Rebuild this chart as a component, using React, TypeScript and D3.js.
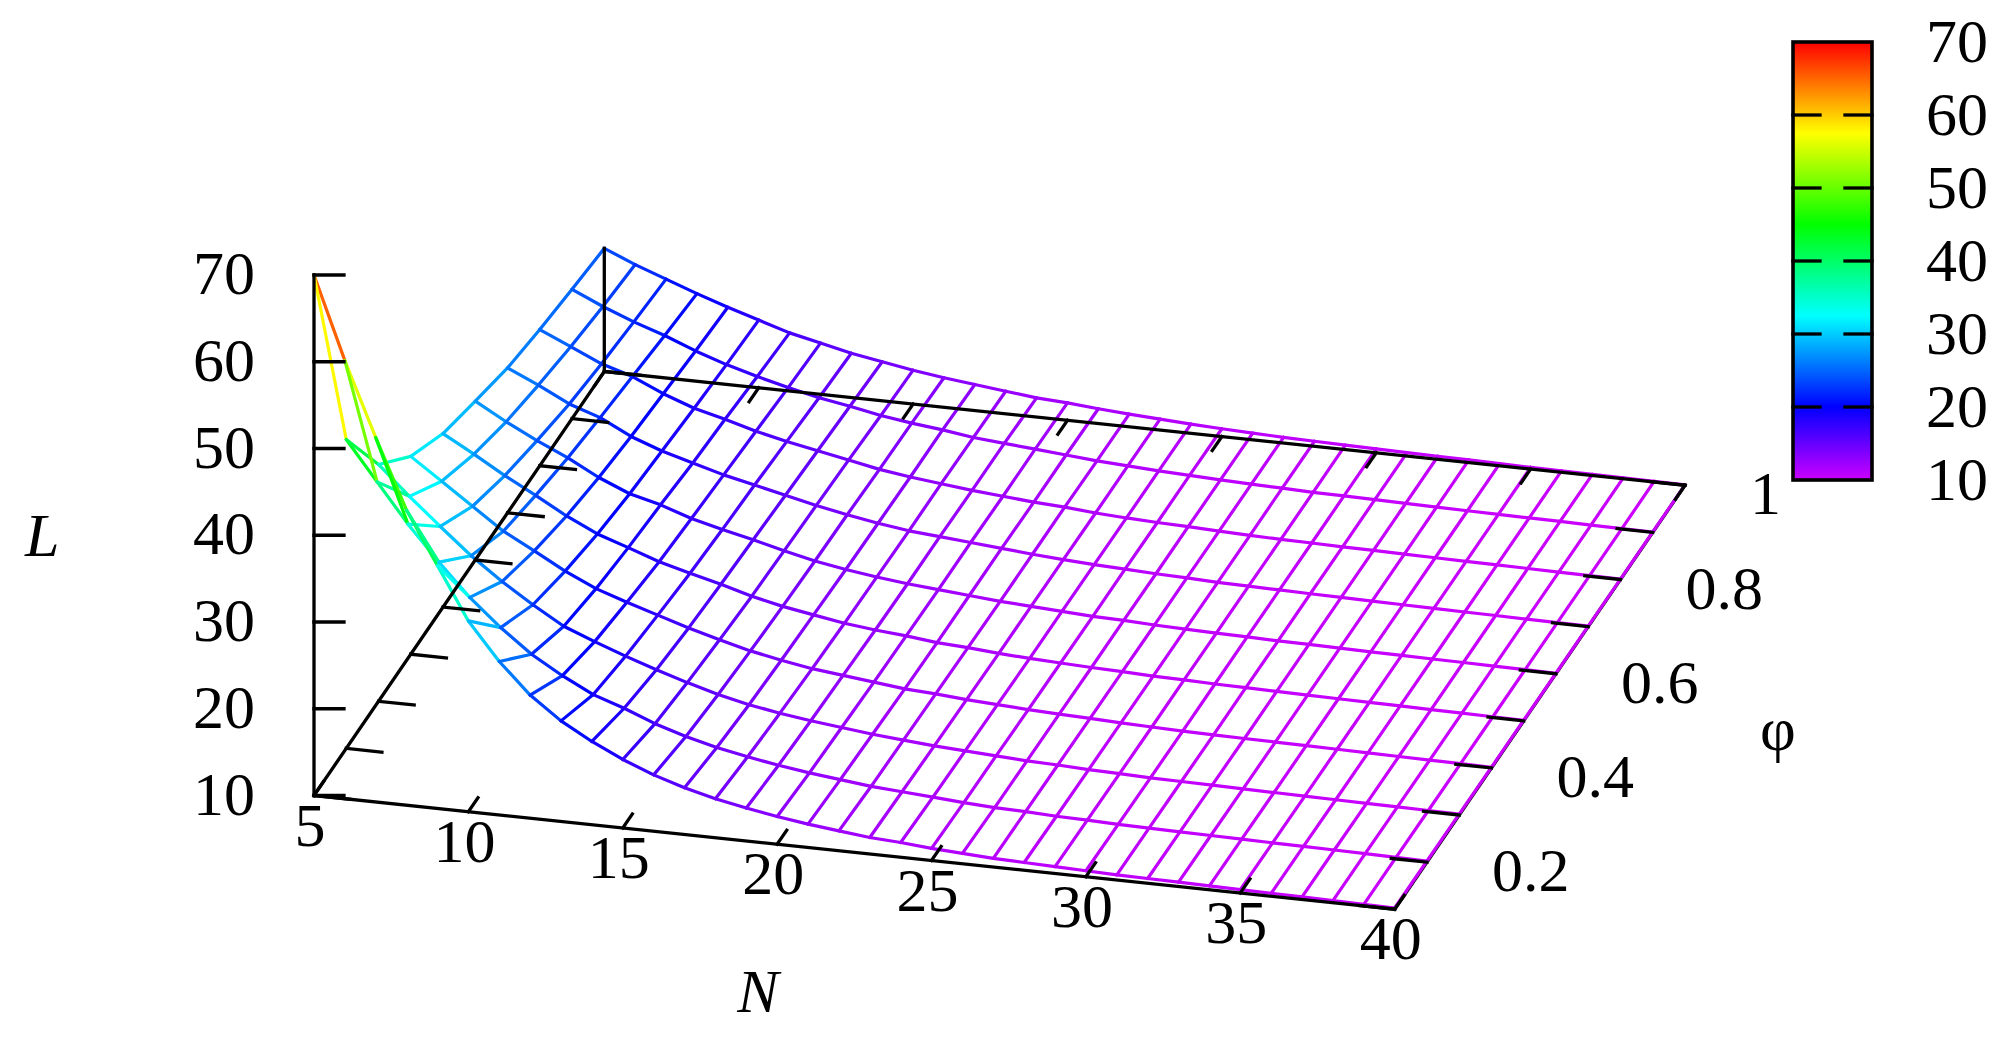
import * as d3 from "d3";

const nValues = [
  5, 6, 7, 8, 9, 10, 11, 12, 13, 14, 15, 16, 17, 18, 19, 20, 21, 22, 23, 24, 25, 26, 27, 28, 29, 30,
  31, 32, 33, 34, 35, 36, 37, 38, 39, 40,
];
const phiValues = [0.1, 0.2, 0.3, 0.4, 0.5, 0.6, 0.7, 0.8, 0.9, 1];

// one row per N, one column per phi
const lTable = [
  [70, 45.6, 37.3, 32.8, 30, 28.3, 26.7, 25.7, 24.9, 24.2],
  [60.5, 41.1, 34, 30.3, 28, 26.3, 25.1, 24.1, 23.3, 22.7],
  [52, 36.6, 30.9, 27.8, 25.9, 24.5, 23.3, 22.5, 21.9, 21.4],
  [44, 32.6, 27.9, 25.3, 24, 22.9, 22.1, 21.4, 20.7, 20.1],
  [38, 28.9, 25.3, 23.4, 22, 21, 20.3, 19.8, 19.3, 18.9],
  [32, 25.8, 23, 21.45, 20.3, 19.5, 19, 18.5, 18.1, 17.8],
  [27.7, 23.1, 20.9, 19.8, 19.1, 18.6, 18, 17.6, 17.1, 16.7],
  [24.2, 21, 19.5, 18.6, 17.84, 17.4, 17, 16.6, 16.2, 15.9],
  [21.6, 19.2, 18.2, 17.5, 16.9, 16.5, 16.2, 15.8, 15.4, 15.1],
  [19.6, 18, 17, 16.4, 16, 15.7, 15.4, 15.1, 14.8, 14.5],
  [17.9, 16.6, 15.9, 15.4, 15, 14.8, 14.6, 14.4, 14.1, 13.9],
  [16.5, 15.5, 14.9, 14.5, 14.2, 14, 13.9, 13.7, 13.6, 13.4],
  [15.4, 14.6, 14.1, 13.8, 13.6, 13.4, 13.3, 13.2, 13.2, 13],
  [14.5, 13.9, 13.5, 13.2, 13, 12.9, 12.8, 12.8, 12.7, 12.6],
  [13.8, 13.3, 13, 12.8, 12.6, 12.5, 12.5, 12.4, 12.4, 12.2],
  [13.2, 12.8, 12.6, 12.4, 12.3, 12.2, 12.2, 12.1, 12.1, 12],
  [12.7, 12.4, 12.2, 12, 11.9, 11.9, 11.9, 11.8, 11.8, 11.7],
  [12.3, 12, 11.9, 11.8, 11.7, 11.6, 11.6, 11.6, 11.5, 11.45],
  [11.9, 11.75, 11.6, 11.5, 11.4, 11.4, 11.35, 11.3, 11.3, 11.25],
  [11.7, 11.5, 11.4, 11.3, 11.2, 11.2, 11.15, 11.1, 11.1, 11.05],
  [11.4, 11.25, 11.2, 11.1, 11.05, 11, 11, 10.95, 10.95, 10.9],
  [11.2, 11.05, 11, 10.95, 10.9, 10.9, 10.85, 10.85, 10.8, 10.76],
  [11, 10.95, 10.9, 10.85, 10.8, 10.75, 10.75, 10.7, 10.7, 10.66],
  [10.9, 10.8, 10.75, 10.7, 10.65, 10.65, 10.6, 10.6, 10.6, 10.58],
  [10.8, 10.73, 10.65, 10.6, 10.6, 10.55, 10.55, 10.5, 10.5, 10.5],
  [10.7, 10.62, 10.55, 10.5, 10.5, 10.5, 10.48, 10.46, 10.46, 10.45],
  [10.6, 10.55, 10.5, 10.45, 10.45, 10.42, 10.42, 10.4, 10.4, 10.4],
  [10.55, 10.5, 10.45, 10.4, 10.4, 10.38, 10.37, 10.36, 10.35, 10.35],
  [10.5, 10.45, 10.4, 10.36, 10.34, 10.33, 10.32, 10.31, 10.3, 10.3],
  [10.45, 10.4, 10.35, 10.32, 10.3, 10.28, 10.27, 10.26, 10.25, 10.25],
  [10.4, 10.36, 10.31, 10.28, 10.26, 10.24, 10.23, 10.22, 10.2, 10.2],
  [10.35, 10.32, 10.27, 10.24, 10.22, 10.2, 10.19, 10.18, 10.17, 10.17],
  [10.3, 10.28, 10.23, 10.2, 10.18, 10.17, 10.16, 10.15, 10.14, 10.14],
  [10.25, 10.23, 10.19, 10.16, 10.14, 10.13, 10.12, 10.11, 10.1, 10.1],
  [10.2, 10.19, 10.15, 10.12, 10.1, 10.09, 10.08, 10.08, 10.07, 10.07],
  [10.15, 10.14, 10.11, 10.08, 10.07, 10.06, 10.05, 10.05, 10.05, 10.05],
];

const nTicks = [5, 10, 15, 20, 25, 30, 35, 40];
const phiTicks = [0.1, 0.2, 0.3, 0.4, 0.5, 0.6, 0.7, 0.8, 0.9, 1];
const phiLabels = [
  { phi: 0.2, text: "0.2" },
  { phi: 0.4, text: "0.4" },
  { phi: 0.6, text: "0.6" },
  { phi: 0.8, text: "0.8" },
  { phi: 1, text: "1" },
];
const zTicks = [10, 20, 30, 40, 50, 60, 70];

const font = "'Liberation Serif', serif";
const fontSize = 62;

const originX = 314;
const originY = 795.5;

// oblique projection of the box, gnuplot style
const nToX = d3.scaleLinear().domain([5, 40]).range([0, 1080.7]);
const nToY = d3.scaleLinear().domain([5, 40]).range([0, 113.8]);
const phiToX = d3.scaleLinear().domain([0.1, 1]).range([0, 290.3]);
const phiToY = d3.scaleLinear().domain([0.1, 1]).range([0, -424]);
const zToY = d3.scaleLinear().domain([10, 70]).range([0, -520.5]);

const px = (n: number, phi: number) => originX + nToX(n) + phiToX(phi);
const py = (n: number, phi: number, z = 10) => originY + nToY(n) + phiToY(phi) + zToY(z);

// palette is a plain hue sweep from red at 70 to purple at 10
const hue = d3.scaleLinear().domain([70, 10]).range([0, 288]);
const palette = (z: number) => d3.hsl(hue(z), 1, 0.5).formatRgb();

const barY = d3.scaleLinear().domain([10, 70]).range([480, 42]);
const barLeft = 1793;
const barRight = 1872;
const gradientStops = d3.range(10, 70.1, 2.5);

const tickN = 0.033; // tick length as part of the axis
const black = "#000";

const Ax = (p: { x1: number; y1: number; x2: number; y2: number }) => (
  <line {...p} stroke={black} strokeWidth={3.3} strokeLinecap="square" />
);

export default function App() {
  const segments: { x1: number; y1: number; x2: number; y2: number; z: number }[] = [];
  nValues.forEach((n, i) => {
    phiValues.forEach((phi, j) => {
      const z = lTable[i][j];
      if (i + 1 < nValues.length) {
        const z2 = lTable[i + 1][j];
        segments.push({
          x1: px(n, phi),
          y1: py(n, phi, z),
          x2: px(nValues[i + 1], phi),
          y2: py(nValues[i + 1], phi, z2),
          z: (z + z2) / 2,
        });
      }
      if (j + 1 < phiValues.length) {
        const z2 = lTable[i][j + 1];
        segments.push({
          x1: px(n, phi),
          y1: py(n, phi, z),
          x2: px(n, phiValues[j + 1]),
          y2: py(n, phiValues[j + 1], z2),
          z: (z + z2) / 2,
        });
      }
    });
  });

  const lastN = nValues[nValues.length - 1];
  const firstN = nValues[0];
  const firstPhi = phiValues[0];
  const lastPhi = phiValues[phiValues.length - 1];
  const nTickDx = (nToX(40) - nToX(5)) * tickN;
  const nTickDy = (nToY(40) - nToY(5)) * tickN;
  const phiTickDx = (phiToX(1) - phiToX(0.1)) * tickN;
  const phiTickDy = (phiToY(1) - phiToY(0.1)) * tickN;

  return (
    <svg
      width={2005}
      height={1052}
      style={{ position: "absolute", left: 0, top: 0, display: "block", background: "#fff" }}
      fontFamily={font}
      fontSize={fontSize}
    >
      <defs>
        <linearGradient id="bar" x1="0" y1="1" x2="0" y2="0">
          {gradientStops.map((z) => (
            <stop key={z} offset={(z - 10) / 60} stopColor={palette(z)} />
          ))}
        </linearGradient>
      </defs>

      {/* right edge goes under the surface */}
      <Ax x1={px(lastN, firstPhi)} y1={py(lastN, firstPhi)} x2={px(lastN, lastPhi)} y2={py(lastN, lastPhi)} />

      {segments.map((s, i) => (
        <line
          key={i}
          x1={s.x1}
          y1={s.y1}
          x2={s.x2}
          y2={s.y2}
          stroke={palette(s.z)}
          strokeWidth={3.2}
          strokeLinecap="round"
        />
      ))}

      <Ax x1={px(firstN, firstPhi)} y1={py(firstN, firstPhi)} x2={px(lastN, firstPhi)} y2={py(lastN, firstPhi)} />
      <Ax x1={px(firstN, firstPhi)} y1={py(firstN, firstPhi)} x2={px(firstN, lastPhi)} y2={py(firstN, lastPhi)} />
      <Ax x1={px(firstN, lastPhi)} y1={py(firstN, lastPhi)} x2={px(lastN, lastPhi)} y2={py(lastN, lastPhi)} />
      <Ax
        x1={px(firstN, firstPhi)}
        y1={py(firstN, firstPhi)}
        x2={px(firstN, firstPhi)}
        y2={py(firstN, firstPhi, 70)}
      />
      <Ax
        x1={px(firstN, lastPhi)}
        y1={py(firstN, lastPhi)}
        x2={px(firstN, lastPhi)}
        y2={py(firstN, lastPhi, lTable[0][9])}
      />

      {zTicks.map((z) => (
        <g key={z}>
          <Ax x1={originX} y1={py(5, 0.1, z)} x2={originX + 30} y2={py(5, 0.1, z)} />
          <text x={255} y={py(5, 0.1, z) + 19} textAnchor="end">
            {z}
          </text>
        </g>
      ))}

      {nTicks.map((n) => (
        <g key={n}>
          <Ax x1={px(n, 0.1)} y1={py(n, 0.1)} x2={px(n, 0.1) + phiTickDx} y2={py(n, 0.1) + phiTickDy} />
          <Ax x1={px(n, 1)} y1={py(n, 1)} x2={px(n, 1) - phiTickDx} y2={py(n, 1) - phiTickDy} />
          <text x={px(n, 0.1) - 4} y={py(n, 0.1) + 50} textAnchor="middle">
            {n}
          </text>
        </g>
      ))}

      {phiTicks.map((phi) => (
        <g key={phi}>
          <Ax x1={px(5, phi)} y1={py(5, phi)} x2={px(5, phi) + nTickDx} y2={py(5, phi) + nTickDy} />
          <Ax x1={px(40, phi)} y1={py(40, phi)} x2={px(40, phi) - nTickDx} y2={py(40, phi) - nTickDy} />
        </g>
      ))}
      {phiLabels.map((d) => (
        <text key={d.text} x={px(40, d.phi) + 65} y={py(40, d.phi) + 29}>
          {d.text}
        </text>
      ))}

      <text x={25} y={556} fontStyle="italic">
        L
      </text>
      <text x={758} y={1012} fontStyle="italic" textAnchor="middle">
        N
      </text>
      <text x={1778} y={750} textAnchor="middle">
        φ
      </text>

      <rect
        x={barLeft}
        y={barY(70)}
        width={barRight - barLeft}
        height={barY(10) - barY(70)}
        fill="url(#bar)"
        stroke={black}
        strokeWidth={3.6}
      />
      {zTicks.slice(1, -1).map((z) => (
        <g key={z}>
          <Ax x1={barLeft} y1={barY(z)} x2={barLeft + 27} y2={barY(z)} />
          <Ax x1={barRight} y1={barY(z)} x2={barRight - 27} y2={barY(z)} />
        </g>
      ))}
      {zTicks.map((z) => (
        <text key={z} x={1988} y={barY(z) + 20} textAnchor="end">
          {z}
        </text>
      ))}
    </svg>
  );
}
